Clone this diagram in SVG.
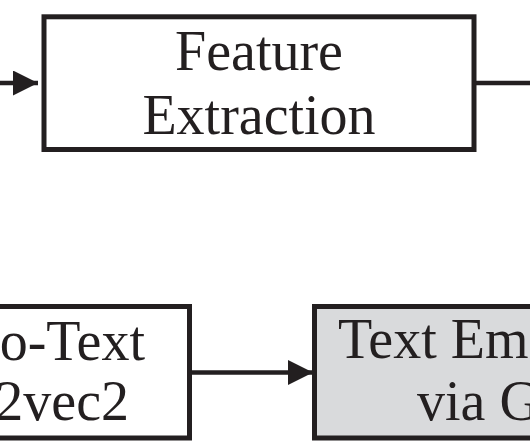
<svg xmlns="http://www.w3.org/2000/svg" width="530" height="442" viewBox="0 0 530 442">
<style>
.box{fill:#ffffff;stroke:#231f20;stroke-width:5}
.gray{fill:#d9dadc}
.lbl{font-family:"Liberation Serif","Times New Roman",serif;font-size:56px;fill:#231f20}
.edge{stroke:#231f20;stroke-width:4.5;fill:none}
</style>
<defs>
<marker id="arr" markerUnits="userSpaceOnUse" markerWidth="26" markerHeight="26" refX="25" refY="12.5" orient="auto">
<path d="M0,0 L25,12.5 L0,25 Z" fill="#231f20"/>
</marker>
</defs>
<rect width="530" height="442" fill="#ffffff"/>
<g id="connectors">
<line class="edge" x1="0" y1="83" x2="38" y2="83" marker-end="url(#arr)"/>
<line class="edge" x1="474" y1="83" x2="530" y2="83"/>
<line class="edge" x1="189" y1="372.5" x2="313" y2="372.5" marker-end="url(#arr)"/>
</g>
<g id="feature-extraction">
<rect class="box" x="44" y="16.8" width="430" height="132.7"/>
<text class="lbl" x="259" y="70" text-anchor="middle">Feature</text>
<text class="lbl" x="259" y="133.5" text-anchor="middle">Extraction</text>
</g>
<g id="speech-to-text">
<rect class="box" x="-20" y="306.5" width="209.5" height="131.5"/>
<text class="lbl" x="145" y="359.5" text-anchor="end">o-Text</text>
<text class="lbl" x="129" y="420" text-anchor="end">2vec2</text>
</g>
<g id="text-embedding">
<rect class="box gray" x="314.5" y="306.5" width="240" height="131.5"/>
<text class="lbl" x="338" y="358">Text Em</text>
<text class="lbl" x="417" y="420">via G</text>
</g>
</svg>
